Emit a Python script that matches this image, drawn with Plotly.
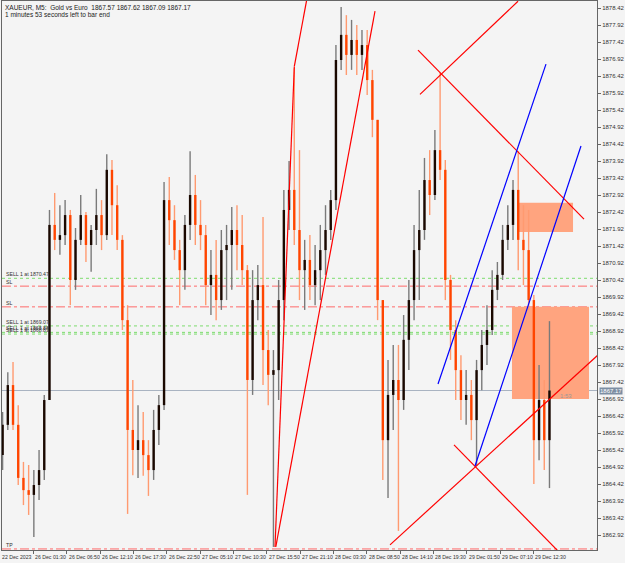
import plotly.graph_objects as go

# ---------------- data ----------------
header_line1 = "XAUEUR, M5:\u00a0 Gold vs Euro\u00a0 1867.57 1867.62 1867.09 1867.17"
header_line2 = "1 minutes 53 seconds left to bar end"

time_labels = ["22 Dec 2023", "26 Dec 01:30", "26 Dec 06:50", "26 Dec 12:10", "26 Dec 17:30",
               "26 Dec 22:50", "27 Dec 05:10", "27 Dec 10:30", "27 Dec 15:50", "27 Dec 21:10",
               "28 Dec 03:30", "28 Dec 08:50", "28 Dec 14:10", "28 Dec 19:30", "29 Dec 01:50",
               "29 Dec 07:10", "29 Dec 12:30"]
bars_per_label = 64      # M5 bars between time labels
bars_per_candle = 10     # each drawn candle aggregates 10 M5 bars

price_ticks = [1862.92, 1863.42, 1863.92, 1864.42, 1864.92, 1865.42, 1865.92, 1866.42,
               1866.92, 1867.42, 1867.92, 1868.42, 1868.92, 1869.42, 1869.92, 1870.42,
               1870.92, 1871.42, 1871.92, 1872.42, 1872.92, 1873.42, 1873.92, 1874.42,
               1874.92, 1875.42, 1875.92, 1876.42, 1876.92, 1877.42, 1877.92, 1878.42]

opens = [1865.27, 1866.16, 1867.33, 1866.16, 1864.60, 1864.24, 1864.10, 1864.39, 1864.83, 1866.89,
         1872.04, 1871.60, 1871.74, 1872.33, 1870.42, 1871.60, 1872.33, 1871.45, 1871.89, 1872.33,
         1871.74, 1873.66, 1872.62, 1871.60, 1869.24, 1866.01, 1865.42, 1865.71, 1865.27, 1864.83,
         1866.01, 1866.74, 1872.77, 1872.18, 1871.30, 1870.71, 1872.04, 1872.92, 1872.04, 1871.74,
         1870.27, 1870.57, 1869.83, 1871.30, 1871.45, 1871.89, 1871.45, 1870.71, 1867.48, 1869.83,
         1870.27, 1868.36, 1867.63, 1867.77, 1869.83, 1872.48, 1873.07, 1871.89, 1870.71, 1871.01,
         1870.27, 1870.71, 1871.30, 1871.89, 1872.77, 1876.89, 1877.63, 1877.04, 1877.48, 1877.04,
         1877.33, 1876.30, 1875.13, 1869.83, 1865.71, 1867.04, 1867.48, 1866.89, 1868.66, 1869.83,
         1871.30, 1871.89, 1873.36, 1872.92, 1874.24, 1873.66, 1870.42, 1868.95, 1867.77, 1866.89,
         1867.04, 1866.30, 1867.77, 1868.51, 1868.95, 1870.13, 1870.57, 1871.60, 1872.04, 1873.07,
         1871.60, 1871.30, 1869.83, 1865.71, 1866.89, 1865.71]
highs = [1866.54, 1867.71, 1868.01, 1866.74, 1865.07, 1864.98, 1864.83, 1865.42, 1867.04, 1872.48,
         1872.98, 1872.62, 1872.77, 1872.48, 1871.95, 1872.92, 1872.42, 1872.04, 1873.10, 1872.77,
         1874.12, 1873.95, 1873.21, 1871.74, 1869.68, 1867.48, 1866.74, 1866.54, 1865.71, 1866.60,
         1867.04, 1873.30, 1873.45, 1872.62, 1871.60, 1872.33, 1874.21, 1873.51, 1872.77, 1872.04,
         1871.30, 1871.60, 1871.89, 1872.04, 1872.57, 1872.62, 1872.33, 1870.86, 1870.71, 1870.86,
         1872.27, 1868.95, 1868.36, 1870.42, 1873.07, 1873.92, 1876.66, 1874.24, 1871.60, 1871.74,
         1871.45, 1872.04, 1872.62, 1873.07, 1877.33, 1878.45, 1878.21, 1878.07, 1877.92, 1877.77,
         1877.77, 1876.60, 1875.13, 1869.83, 1868.07, 1868.51, 1868.51, 1869.39, 1870.42, 1872.04,
         1873.07, 1874.01, 1874.24, 1874.83, 1876.51, 1873.95, 1870.57, 1869.24, 1868.21, 1867.77,
         1867.48, 1868.07, 1868.95, 1869.68, 1870.71, 1870.95, 1872.04, 1872.62, 1873.36, 1874.21,
         1872.62, 1872.48, 1869.98, 1867.92, 1867.48, 1869.21]
lows = [1864.83, 1866.01, 1866.01, 1864.39, 1863.80, 1863.51, 1862.86, 1863.95, 1864.54, 1866.89,
        1871.30, 1871.16, 1871.45, 1869.68, 1870.13, 1871.45, 1870.95, 1870.66, 1871.45, 1871.30,
        1871.60, 1871.74, 1871.30, 1868.95, 1863.54, 1864.68, 1864.60, 1864.66, 1864.07, 1864.54,
        1865.57, 1866.60, 1871.45, 1871.01, 1869.68, 1870.13, 1871.60, 1871.45, 1871.30, 1869.68,
        1869.39, 1869.24, 1869.54, 1869.83, 1870.13, 1870.71, 1870.27, 1864.10, 1867.04, 1869.24,
        1867.33, 1866.74, 1862.57, 1866.89, 1869.24, 1871.89, 1871.45, 1869.83, 1869.54, 1869.83,
        1869.68, 1869.83, 1870.57, 1871.60, 1872.48, 1876.60, 1876.45, 1876.60, 1876.45, 1876.60,
        1875.86, 1874.62, 1869.24, 1864.54, 1864.01, 1866.01, 1863.04, 1866.60, 1867.77, 1869.24,
        1869.83, 1871.60, 1872.33, 1872.77, 1873.36, 1869.83, 1868.07, 1866.89, 1866.30, 1866.16,
        1865.71, 1864.95, 1867.18, 1867.92, 1868.80, 1869.83, 1870.42, 1871.30, 1871.60, 1870.71,
        1870.27, 1869.54, 1864.42, 1865.12, 1864.83, 1864.30]
closes = [1866.16, 1867.33, 1866.16, 1864.60, 1864.24, 1864.10, 1864.39, 1864.83, 1866.89, 1872.04,
          1871.60, 1871.74, 1872.33, 1870.42, 1871.60, 1872.33, 1871.45, 1871.89, 1872.33, 1871.74,
          1873.66, 1872.62, 1871.60, 1869.24, 1866.01, 1865.42, 1865.71, 1865.27, 1864.83, 1866.01,
          1866.74, 1872.77, 1872.18, 1871.30, 1870.71, 1872.04, 1872.92, 1872.04, 1871.74, 1870.27,
          1870.57, 1869.83, 1871.30, 1871.45, 1871.89, 1871.45, 1870.71, 1867.48, 1869.83, 1870.27,
          1868.36, 1867.63, 1867.77, 1869.83, 1872.48, 1873.07, 1871.89, 1870.71, 1871.01, 1870.27,
          1870.71, 1871.30, 1871.89, 1872.77, 1876.89, 1877.63, 1877.04, 1877.48, 1877.04, 1877.33,
          1876.30, 1875.13, 1869.83, 1865.71, 1867.04, 1867.48, 1866.89, 1868.66, 1869.83, 1871.30,
          1871.89, 1873.36, 1872.92, 1874.24, 1873.66, 1870.42, 1868.95, 1867.77, 1866.89, 1867.04,
          1866.30, 1867.77, 1868.51, 1868.95, 1870.13, 1870.57, 1871.60, 1872.04, 1873.07, 1871.60,
          1871.30, 1869.83, 1865.71, 1866.89, 1865.71, 1867.17]

current_price = 1867.17
countdown_short = "1:53"

level_labels = ["SELL 1 at 1870.47", "SL", "SL", "SELL 1 at 1869.07", "SELL 1 at 1868.88", "SELL 1 at 1868.83", "TP"]
level_prices = [1870.47, 1870.24, 1869.63, 1869.07, 1868.88, 1868.83, 1862.51]
level_kinds = ["sell", "sl", "sl", "sell", "sell", "sell", "tp"]

# trend lines (bar index, price) anchors
red_lines = [((528.0, 1862.57), (565.1, 1876.70)),
             ((565.1, 1876.70), (588.9, 1878.66)),
             ((529.5, 1862.57), (720.0, 1878.33)),
             ((748.8, 1862.63), (1152.0, 1868.27)),
             ((871.7, 1865.57), (1075.2, 1862.39)),
             ((802.6, 1877.18), (1121.3, 1872.21)),
             ((806.4, 1875.88), (994.6, 1878.62))]
blue_lines = [((841.0, 1867.36), (1048.3, 1876.77)),
              ((912.0, 1864.95), (1115.5, 1874.36))]
zones = [((994.6, 1871.83), (1100.2, 1872.69)),
         ((983.0, 1866.92), (1130.9, 1869.63))]

# ---------------- figure ----------------
FONT = "Liberation Sans, Arial, sans-serif"
BG = "#f4f4f4"
PLOT_L, PLOT_R = 2, 597
px_per_bar = 33.333 / bars_per_label
x_range = [PLOT_L / px_per_bar, PLOT_R / px_per_bar]

def to_paper(b):
    return (b - x_range[0]) / (x_range[1] - x_range[0])

xc = [bars_per_candle * i + bars_per_candle / 2 for i in range(len(opens))]

def seg_lists(idx, a, b):
    xs, ys = [], []
    for i in idx:
        xs += [xc[i], xc[i], None]
        ys += [a[i], b[i], None]
    return xs, ys

up = [i for i in range(len(opens)) if closes[i] >= opens[i]]
dn = [i for i in range(len(opens)) if closes[i] < opens[i]]

fig = go.Figure()
for idx, wick_col in ((up, "#7a7a7a"), (dn, "#ff9a70")):
    xs, ys = seg_lists(idx, lows, highs)
    fig.add_trace(go.Scatter(x=xs, y=ys, mode="lines", line=dict(color=wick_col, width=1.4),
                             hoverinfo="skip", showlegend=False))
for idx, body_col in ((up, "#1a0800"), (dn, "#ff4500")):
    xs, ys = seg_lists(idx, opens, closes)
    fig.add_trace(go.Scatter(x=xs, y=ys, mode="lines", line=dict(color=body_col, width=2.4),
                             hoverinfo="skip", showlegend=False))

shapes = []
shapes.append(dict(type="line", xref="paper", x0=0, x1=1, yref="y", y0=current_price, y1=current_price,
                   line=dict(color="#a9b3c1", width=1), layer="below"))
for p, k in zip(level_prices, level_kinds):
    if k == "sell":
        ln = dict(color="#7ddc6e", width=1, dash="dot")
    else:
        ln = dict(color="#ff6a6a", width=1, dash="dashdot")
    shapes.append(dict(type="line", xref="paper", x0=0, x1=1, yref="y", y0=p, y1=p, line=ln, layer="below"))
for (x0, y0), (x1, y1) in zones:
    shapes.append(dict(type="rect", xref="x", yref="y", x0=x0, x1=x1, y0=y0, y1=y1,
                       fillcolor="#ffa47f", line=dict(width=0), layer="below"))
for (x0, y0), (x1, y1) in red_lines:
    shapes.append(dict(type="line", xref="x", yref="y", x0=x0, y0=y0, x1=x1, y1=y1,
                       line=dict(color="#ff0000", width=1.2), layer="above"))
for (x0, y0), (x1, y1) in blue_lines:
    shapes.append(dict(type="line", xref="x", yref="y", x0=x0, y0=y0, x1=x1, y1=y1,
                       line=dict(color="#0000ff", width=1.2), layer="above"))

ann = []
ann.append(dict(xref="paper", yref="paper", x=0, y=1, xanchor="left", yanchor="top", xshift=1, yshift=-1,
                text=header_line1, showarrow=False, font=dict(family=FONT, size=6.5, color="#222")))
ann.append(dict(xref="paper", yref="paper", x=0, y=1, xanchor="left", yanchor="top", xshift=1, yshift=-8,
                text=header_line2, showarrow=False, font=dict(family=FONT, size=6.5, color="#222")))
for k, lab in enumerate(time_labels):
    ann.append(dict(xref="paper", yref="paper", x=to_paper(k * bars_per_label), y=0,
                    xanchor="left", yanchor="top", xshift=0, yshift=-2, text=lab, showarrow=False,
                    font=dict(family=FONT, size=5.2, color="#333")))
for lab, p in zip(level_labels, level_prices):
    ann.append(dict(xref="paper", yref="y", x=0, y=p, xanchor="left", yanchor="bottom", xshift=2, yshift=-1,
                    text=lab, showarrow=False, font=dict(family=FONT, size=5.2, color="#333")))
ann.append(dict(xref="paper", yref="y", x=1, y=current_price, xanchor="left", yanchor="middle", xshift=2,
                text=f"{current_price:.2f}", showarrow=False, bgcolor="#7d8ea3", borderpad=0,
                font=dict(family=FONT, size=6, color="#ffffff")))
ann.append(dict(xref="x", yref="y", x=1071, y=current_price, xanchor="left", yanchor="top", yshift=0,
                text=countdown_short, showarrow=False, font=dict(family=FONT, size=6, color="#999")))

fig.update_layout(
    width=625, height=563, margin=dict(l=PLOT_L, r=625 - PLOT_R, t=1, b=13),
    paper_bgcolor=BG, plot_bgcolor=BG, showlegend=False,
    shapes=shapes, annotations=ann,
    xaxis=dict(range=x_range, showgrid=False, zeroline=False,
               tickvals=[k * bars_per_label for k in range(len(time_labels))], showticklabels=False,
               ticks="outside", ticklen=3, tickcolor="#666", showline=True, linecolor="#666",
               linewidth=1, mirror=True),
    yaxis=dict(range=[1862.479, 1878.626], side="right", showgrid=False, zeroline=False,
               tickvals=price_ticks, ticktext=[f"{v:.2f}" for v in price_ticks],
               ticks="outside", ticklen=3, tickcolor="#666", showline=True, linecolor="#666",
               linewidth=1, mirror=True, tickfont=dict(family=FONT, size=6, color="#333")),
)

fig.write_html("out.html")
